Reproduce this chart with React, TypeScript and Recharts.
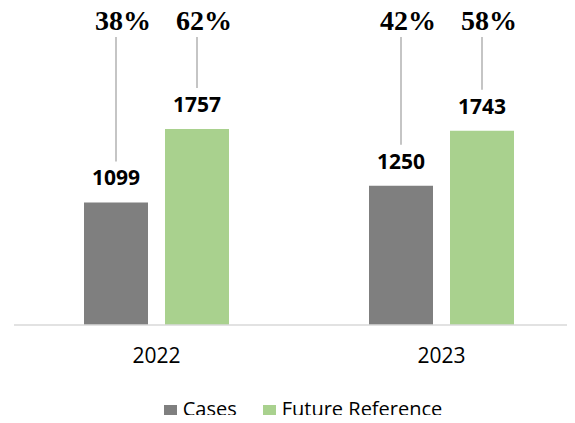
import { BarChart, Bar, XAxis, YAxis, Legend, LabelList } from "recharts";

const years = ["2022", "2023"];
const cases = [1099, 1250];
const futureReference = [1757, 1743];
const casesShare = [38, 42];
const futureShare = [62, 58];

const data = years.map((year, i) => ({
  year,
  cases: cases[i],
  future: futureReference[i],
  casesPct: casesShare[i],
  futurePct: futureShare[i],
}));

const GRAY = "#7f7f7f";
const GREEN = "#a9d18e";
const SANS = "'Open Sans', sans-serif";

// callout above each bar: big percentage with a thin leader line down to the value label
function ShareCallout(props: any) {
  const { x, y, width, value } = props;
  const cx = Number(x) + Number(width) / 2;
  return (
    <g>
      <line x1={cx} x2={cx} y1={37} y2={Number(y) - 41} stroke="#a6a6a6" strokeWidth={1.3} />
      <text
        x={cx + 7}
        y={30}
        textAnchor="middle"
        fontFamily="'Liberation Serif', 'Times New Roman', serif"
        fontWeight="bold"
        fontSize={28}
        fill="#000"
      >
        {value}%
      </text>
    </g>
  );
}

function renderLegend() {
  const items = [
    { label: "Cases", color: GRAY },
    { label: "Future Reference", color: GREEN },
  ];
  return (
    <div
      style={{
        display: "flex",
        justifyContent: "center",
        alignItems: "center",
        height: 24,
        lineHeight: "24px",
        fontFamily: SANS,
        fontSize: 20,
        color: "#000",
      }}
    >
      {items.map((it, i) => (
        <div key={it.label} style={{ display: "flex", alignItems: "center", marginLeft: i ? 26 : 0 }}>
          <span
            style={{
              width: 13,
              height: 13,
              background: it.color,
              marginRight: 6,
              marginTop: 4,
              display: "inline-block",
            }}
          />
          <span>{it.label}</span>
        </div>
      ))}
    </div>
  );
}

export default function App() {
  return (
    <div style={{ margin: -8, width: 575, height: 423, overflow: "hidden", background: "#fff" }}>
      <BarChart
        width={600}
        height={423}
        data={data}
        margin={{ top: 102, right: 16, left: 14, bottom: 0 }}
        barGap={17}
        barSize={64}
      >
        <XAxis
          dataKey="year"
          axisLine={{ stroke: "#d9d9d9", strokeWidth: 1.5 }}
          tickLine={false}
          height={74}
          tickMargin={17}
          tick={{ fontFamily: SANS, fontSize: 21, fill: "#000" }}
        />
        <YAxis hide domain={[0, 2000]} />
        <Legend
          verticalAlign="bottom"
          content={renderLegend}
          wrapperStyle={{ left: 0, top: 397, width: 606 }}
        />
        <Bar dataKey="cases" name="Cases" fill={GRAY} isAnimationActive={false}>
          <LabelList
            dataKey="cases"
            position="top"
            offset={17}
            style={{ fontFamily: SANS, fontWeight: "bold", fontSize: 21, fill: "#000" }}
          />
          <LabelList dataKey="casesPct" content={ShareCallout} />
        </Bar>
        <Bar dataKey="future" name="Future Reference" fill={GREEN} isAnimationActive={false}>
          <LabelList
            dataKey="future"
            position="top"
            offset={17}
            style={{ fontFamily: SANS, fontWeight: "bold", fontSize: 21, fill: "#000" }}
          />
          <LabelList dataKey="futurePct" content={ShareCallout} />
        </Bar>
      </BarChart>
    </div>
  );
}
